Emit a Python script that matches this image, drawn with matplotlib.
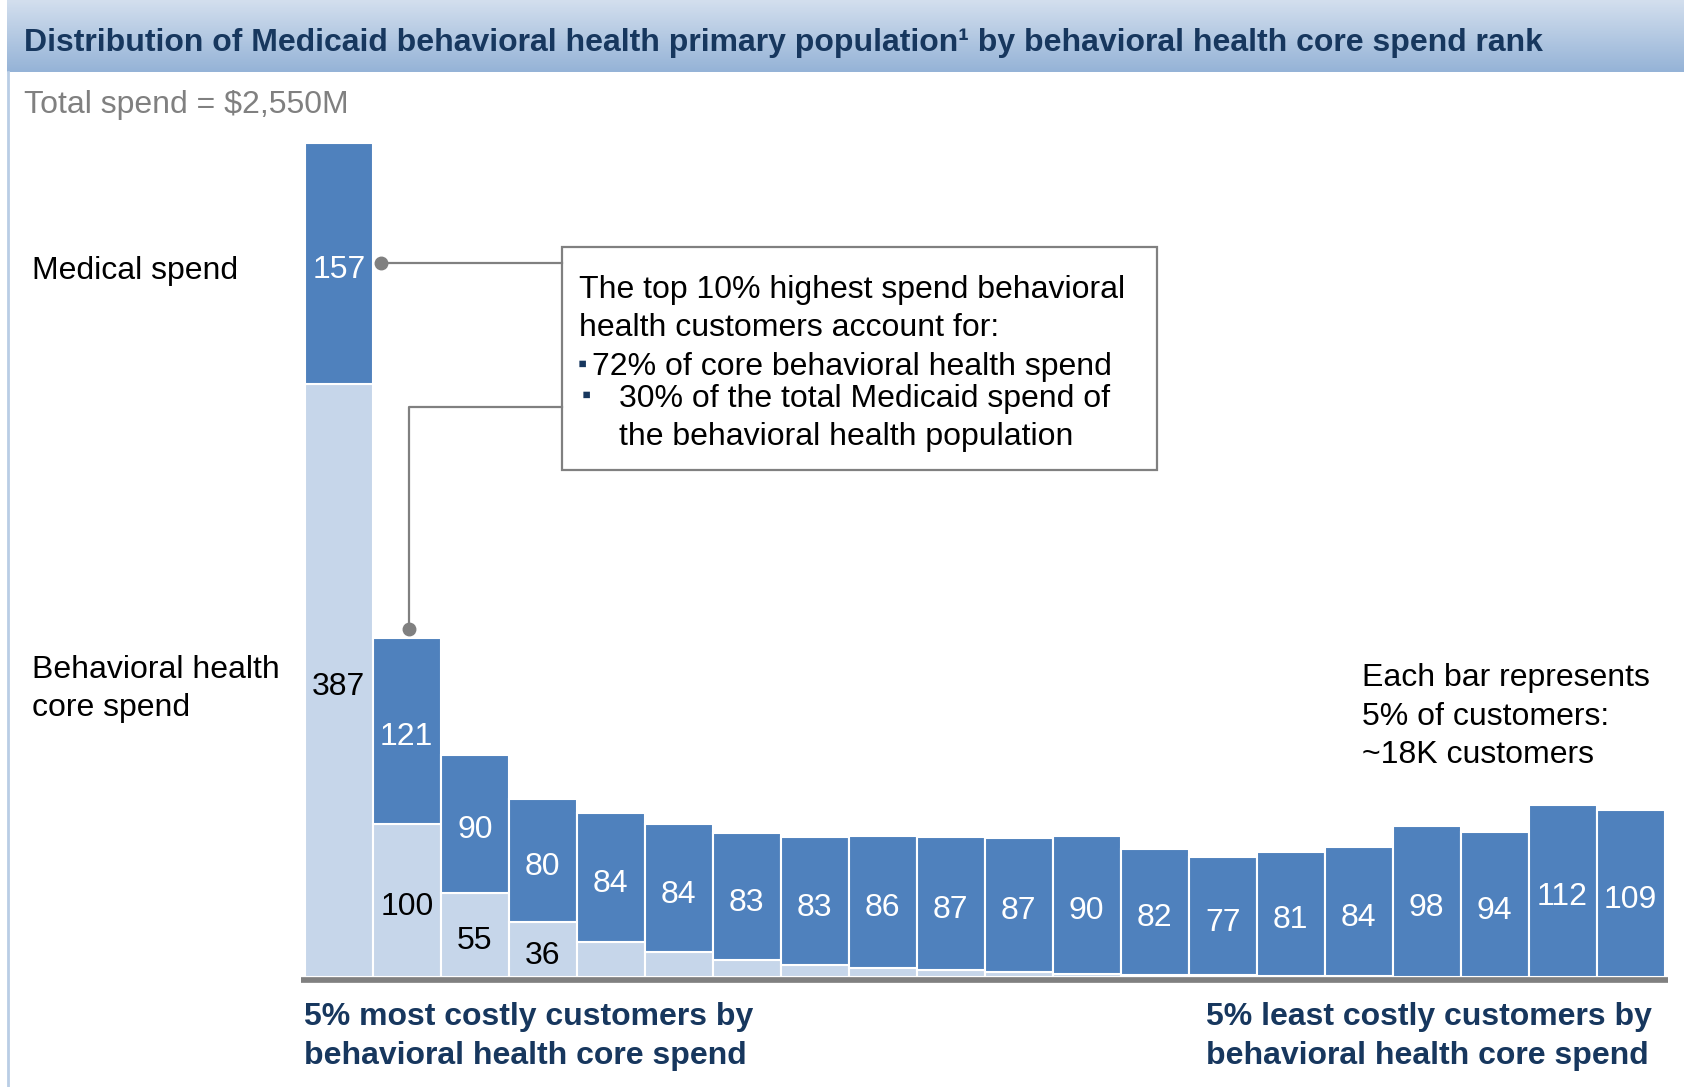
import numpy as np
import matplotlib.pyplot as plt
from matplotlib.patches import Rectangle

plt.rcParams['font.family'] = ['Liberation Sans', 'DejaVu Sans']

W, H = 1684, 1087

# $M per 5% bucket of customers, ranked by behavioral health core spend
behavioral = [387, 100, 55, 36, 23, 16, 11, 8, 6, 4.5, 3.5, 2.2, 1.5, 1.0, 0.8, 0.5, 0.3, 0.3, 0.2, 0.2]
medical = [157, 121, 90, 80, 84, 84, 83, 83, 86, 87, 87, 90, 82, 77, 81, 84, 98, 94, 112, 109]
behavioral_labels = ["387", "100", "55", "36"] + [""] * 16
medical_labels = [str(v) for v in medical]

dark = "#4F81BD"
light = "#C6D6EA"
navy = "#17375E"
gray = "#808080"


def px(x, y):
    # pixel position (from top-left) -> figure fraction, small downward nudge for text
    return x / W, 1 - (y + 3) / H


fig = plt.figure(figsize=(W / 100, H / 100), dpi=100)

# title banner with vertical gradient
ban = fig.add_axes([7 / W, 1 - 72 / H, 1 - 7 / W, 72 / H])
grad = np.linspace(0, 1, 100).reshape(-1, 1)
c1 = np.array([0xD3, 0xDF, 0xEE]) / 255
c2 = np.array([0x95, 0xB3, 0xD7]) / 255
img = c1 + (c2 - c1) * grad[..., None]
ban.imshow(np.repeat(img, 2, axis=1), aspect="auto", extent=[0, 1, 0, 1])
ban.axis("off")
fig.text(*px(24, 40), "Distribution of Medicaid behavioral health primary population¹ by behavioral health core spend rank",
         fontsize=23, fontweight="bold", color=navy, va="center", ha="left")

# left border line
fig.add_artist(plt.Line2D([8 / W, 8 / W], [0, 1 - 72 / H], color="#B9CDE5", lw=2))

fig.text(*px(24, 102), "Total spend = $2,550M", fontsize=23, color=gray, va="center")

# main bar axes
x0, x1 = 300.7, 1668
xl = (-0.56, 19.55)
base_px = 977
ppu = 1.5335
yl = (-6, 560)
bottom_px = base_px - yl[0] * ppu
top_px = base_px - yl[1] * ppu
ax = fig.add_axes([x0 / W, 1 - bottom_px / H, (x1 - x0) / W, (bottom_px - top_px) / H])
ax.set_xlim(*xl)
ax.set_ylim(*yl)
ax.axis("off")

fs = 23
x = np.arange(len(medical))
ax.bar(x, behavioral, width=1.0, color=light, edgecolor="white", linewidth=1.5)
ax.bar(x, medical, bottom=behavioral, width=1.0, color=dark, edgecolor="white", linewidth=1.5)
for i in x:
    ax.text(i, behavioral[i] / 2 - 2, behavioral_labels[i], ha="center", va="center_baseline",
            fontsize=fs, color="black")
    ax.text(i, behavioral[i] + medical[i] / 2 - 2, medical_labels[i], ha="center", va="center_baseline",
            fontsize=fs, color="white")
ax.plot(xl, [-1.9, -1.9], color=gray, lw=4.1, solid_capstyle="butt", clip_on=False)

# callout box
box_l, box_r, box_t, box_b = 3.29, 12.03, 476, 330.6
ax.add_patch(Rectangle((box_l, box_b), box_r - box_l, box_t - box_b, fill=False,
                       edgecolor=gray, lw=1.6, zorder=3))
mid1 = behavioral[0] + medical[0] / 2
ax.plot([0.62, box_l], [mid1, mid1], color=gray, lw=1.6)
ax.plot([0.62], [mid1], "o", color=gray, ms=9)
top2 = behavioral[1] + medical[1]
ax.plot([1.03, 1.03, box_l], [top2 + 6, 371.7, 371.7], color=gray, lw=1.6)
ax.plot([1.03], [top2 + 6], "o", color=gray, ms=9)

fig.text(*px(579, 287), "The top 10% highest spend behavioral", fontsize=fs, va="center")
fig.text(*px(579, 325), "health customers account for:", fontsize=fs, va="center")
fig.text(*px(578, 362), "▪", fontsize=19, color=navy, va="center")
fig.text(*px(592, 364), "72% of core behavioral health spend", fontsize=fs, va="center")
fig.text(*px(582, 393), "▪", fontsize=19, color=navy, va="center")
fig.text(*px(619, 396), "30% of the total Medicaid spend of", fontsize=fs, va="center")
fig.text(*px(619, 434), "the behavioral health population", fontsize=fs, va="center")

# side labels
fig.text(*px(32, 268), "Medical spend", fontsize=fs, va="center")
fig.text(*px(32, 667), "Behavioral health", fontsize=fs, va="center")
fig.text(*px(32, 705), "core spend", fontsize=fs, va="center")

fig.text(*px(1362, 675), "Each bar represents", fontsize=fs, va="center")
fig.text(*px(1362, 714), "5% of customers:", fontsize=fs, va="center")
fig.text(*px(1362, 752), "~18K customers", fontsize=fs, va="center")

fig.text(*px(304, 1014), "5% most costly customers by", fontsize=fs, fontweight="bold", color=navy, va="center")
fig.text(*px(304, 1053), "behavioral health core spend", fontsize=fs, fontweight="bold", color=navy, va="center")
fig.text(*px(1206, 1014), "5% least costly customers by", fontsize=fs, fontweight="bold", color=navy, va="center")
fig.text(*px(1206, 1053), "behavioral health core spend", fontsize=fs, fontweight="bold", color=navy, va="center")

fig.savefig("out.png", dpi=100)
